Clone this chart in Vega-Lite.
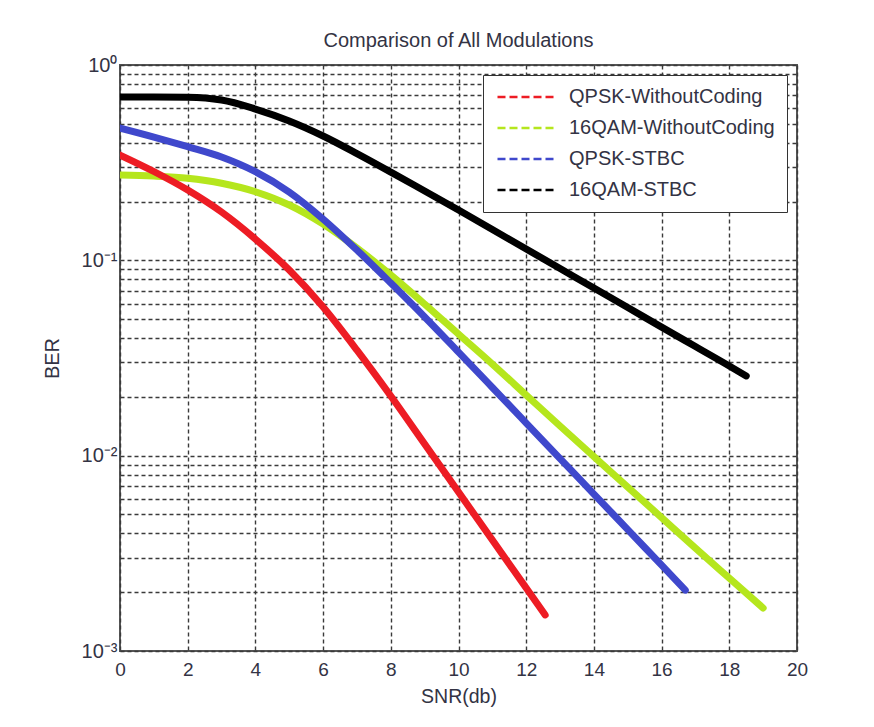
{
  "$schema": "https://vega.github.io/schema/vega-lite/v6.json",
  "autosize": {"type": "none"},
  "padding": {"left": 120, "top": 65, "right": 77, "bottom": 76},
  "width": 677,
  "height": 586,
  "background": "white",
  "title": {
    "text": "Comparison of All Modulations",
    "font": "Liberation Sans",
    "fontSize": 20,
    "fontWeight": "normal",
    "color": "#333344",
    "offset": 4
  },
  "config": {
    "view": {"stroke": "#555555", "strokeWidth": 2},
    "font": "Liberation Sans"
  },
  "data": {
    "values": [
      {"series": "16QAM-WithoutCoding", "snr": 0, "ber": 0.2734},
      {"series": "16QAM-WithoutCoding", "snr": 1, "ber": 0.270},
      {"series": "16QAM-WithoutCoding", "snr": 2, "ber": 0.263},
      {"series": "16QAM-WithoutCoding", "snr": 3, "ber": 0.248},
      {"series": "16QAM-WithoutCoding", "snr": 4, "ber": 0.2245},
      {"series": "16QAM-WithoutCoding", "snr": 5, "ber": 0.192},
      {"series": "16QAM-WithoutCoding", "snr": 6, "ber": 0.1534},
      {"series": "16QAM-WithoutCoding", "snr": 7, "ber": 0.1156},
      {"series": "16QAM-WithoutCoding", "snr": 8, "ber": 0.0841},
      {"series": "16QAM-WithoutCoding", "snr": 9, "ber": 0.0597},
      {"series": "16QAM-WithoutCoding", "snr": 10, "ber": 0.0419},
      {"series": "16QAM-WithoutCoding", "snr": 11, "ber": 0.02944},
      {"series": "16QAM-WithoutCoding", "snr": 12, "ber": 0.02043},
      {"series": "16QAM-WithoutCoding", "snr": 13, "ber": 0.01418},
      {"series": "16QAM-WithoutCoding", "snr": 14, "ber": 0.00989},
      {"series": "16QAM-WithoutCoding", "snr": 15, "ber": 0.00691},
      {"series": "16QAM-WithoutCoding", "snr": 16, "ber": 0.00482},
      {"series": "16QAM-WithoutCoding", "snr": 17, "ber": 0.00336},
      {"series": "16QAM-WithoutCoding", "snr": 18, "ber": 0.00236},
      {"series": "16QAM-WithoutCoding", "snr": 19, "ber": 0.00166},
      {"series": "QPSK-STBC", "snr": 0, "ber": 0.4758},
      {"series": "QPSK-STBC", "snr": 1, "ber": 0.4279},
      {"series": "QPSK-STBC", "snr": 2, "ber": 0.3817},
      {"series": "QPSK-STBC", "snr": 3, "ber": 0.338},
      {"series": "QPSK-STBC", "snr": 4, "ber": 0.2842},
      {"series": "QPSK-STBC", "snr": 5, "ber": 0.2237},
      {"series": "QPSK-STBC", "snr": 6, "ber": 0.1627},
      {"series": "QPSK-STBC", "snr": 7, "ber": 0.1129},
      {"series": "QPSK-STBC", "snr": 8, "ber": 0.0765},
      {"series": "QPSK-STBC", "snr": 9, "ber": 0.0513},
      {"series": "QPSK-STBC", "snr": 10, "ber": 0.0339},
      {"series": "QPSK-STBC", "snr": 11, "ber": 0.02233},
      {"series": "QPSK-STBC", "snr": 12, "ber": 0.01469},
      {"series": "QPSK-STBC", "snr": 13, "ber": 0.00966},
      {"series": "QPSK-STBC", "snr": 14, "ber": 0.00636},
      {"series": "QPSK-STBC", "snr": 15, "ber": 0.00418},
      {"series": "QPSK-STBC", "snr": 16, "ber": 0.00275},
      {"series": "QPSK-STBC", "snr": 16.7, "ber": 0.00205},
      {"series": "QPSK-WithoutCoding", "snr": 0, "ber": 0.346},
      {"series": "QPSK-WithoutCoding", "snr": 1, "ber": 0.285},
      {"series": "QPSK-WithoutCoding", "snr": 2, "ber": 0.229},
      {"series": "QPSK-WithoutCoding", "snr": 3, "ber": 0.1767},
      {"series": "QPSK-WithoutCoding", "snr": 4, "ber": 0.1285},
      {"series": "QPSK-WithoutCoding", "snr": 5, "ber": 0.0892},
      {"series": "QPSK-WithoutCoding", "snr": 6, "ber": 0.0577},
      {"series": "QPSK-WithoutCoding", "snr": 7, "ber": 0.0347},
      {"series": "QPSK-WithoutCoding", "snr": 8, "ber": 0.0202},
      {"series": "QPSK-WithoutCoding", "snr": 9, "ber": 0.01147},
      {"series": "QPSK-WithoutCoding", "snr": 10, "ber": 0.00651},
      {"series": "QPSK-WithoutCoding", "snr": 11, "ber": 0.0037},
      {"series": "QPSK-WithoutCoding", "snr": 12, "ber": 0.0021},
      {"series": "QPSK-WithoutCoding", "snr": 12.56, "ber": 0.00153},
      {"series": "16QAM-STBC", "snr": 0, "ber": 0.686},
      {"series": "16QAM-STBC", "snr": 1, "ber": 0.686},
      {"series": "16QAM-STBC", "snr": 2, "ber": 0.684},
      {"series": "16QAM-STBC", "snr": 3, "ber": 0.662},
      {"series": "16QAM-STBC", "snr": 4, "ber": 0.595},
      {"series": "16QAM-STBC", "snr": 5, "ber": 0.517},
      {"series": "16QAM-STBC", "snr": 6, "ber": 0.433},
      {"series": "16QAM-STBC", "snr": 7, "ber": 0.352},
      {"series": "16QAM-STBC", "snr": 8, "ber": 0.283},
      {"series": "16QAM-STBC", "snr": 9, "ber": 0.2264},
      {"series": "16QAM-STBC", "snr": 10, "ber": 0.181},
      {"series": "16QAM-STBC", "snr": 11, "ber": 0.1438},
      {"series": "16QAM-STBC", "snr": 12, "ber": 0.1143},
      {"series": "16QAM-STBC", "snr": 13, "ber": 0.0908},
      {"series": "16QAM-STBC", "snr": 14, "ber": 0.0721},
      {"series": "16QAM-STBC", "snr": 15, "ber": 0.0573},
      {"series": "16QAM-STBC", "snr": 16, "ber": 0.0455},
      {"series": "16QAM-STBC", "snr": 17, "ber": 0.0362},
      {"series": "16QAM-STBC", "snr": 18, "ber": 0.0288},
      {"series": "16QAM-STBC", "snr": 18.5, "ber": 0.0256}
    ]
  },
  "mark": {"type": "line", "strokeWidth": 7, "strokeCap": "round", "strokeJoin": "round", "interpolate": "monotone", "clip": true},
  "encoding": {
    "x": {
      "field": "snr",
      "type": "quantitative",
      "scale": {"domain": [0, 20], "nice": false, "zero": false},
      "axis": {
        "title": "SNR(db)",
        "values": [0, 2, 4, 6, 8, 10, 12, 14, 16, 18, 20],
        "grid": true,
        "gridColor": "#3a3a3a",
        "gridDash": [4, 3],
        "gridWidth": 1.4,
        "domain": false,
        "ticks": false,
        "labelFont": "Liberation Sans",
        "labelFontSize": 19,
        "labelColor": "#333344",
        "labelPadding": 9,
        "labelFlush": false,
        "titleFont": "Liberation Sans",
        "titleFontSize": 19.5,
        "titleFontWeight": "normal",
        "titleColor": "#333344",
        "titlePadding": 8
      }
    },
    "y": {
      "field": "ber",
      "type": "quantitative",
      "scale": {"type": "log", "domain": [0.001, 1], "nice": false},
      "axis": {
        "title": "BER",
        "values": [0.001, 0.002, 0.003, 0.004, 0.005, 0.006, 0.007, 0.008, 0.009, 0.01, 0.02, 0.03, 0.04, 0.05, 0.06, 0.07, 0.08, 0.09, 0.1, 0.2, 0.3, 0.4, 0.5, 0.6, 0.7, 0.8, 0.9, 1],
        "labelExpr": "datum.value == 1 ? '10⁰' : datum.value == 0.1 ? '10⁻¹' : datum.value == 0.01 ? '10⁻²' : datum.value == 0.001 ? '10⁻³' : ''",
        "labelOverlap": false,
        "labelFlush": false,
        "grid": true,
        "gridColor": "#3a3a3a",
        "gridDash": [4, 3],
        "gridWidth": 1.4,
        "domain": false,
        "ticks": false,
        "labelFont": "Liberation Sans",
        "labelFontSize": 20,
        "labelColor": "#333344",
        "labelPadding": 3,
        "titleFont": "Liberation Sans",
        "titleFontSize": 20,
        "titleFontWeight": "normal",
        "titleColor": "#333344",
        "titlePadding": 19
      }
    },
    "color": {
      "field": "series",
      "type": "nominal",
      "scale": {
        "domain": ["QPSK-WithoutCoding", "16QAM-WithoutCoding", "QPSK-STBC", "16QAM-STBC"],
        "range": ["#ed1c24", "#b5e61d", "#3f48cc", "#000000"]
      },
      "legend": {
        "title": null,
        "orient": "top-right",
        "offset": 10,
        "fillColor": "white",
        "strokeColor": "#333333",
        "padding": 12,
        "symbolType": "M-1,0H7",
        "symbolSize": 225,
        "symbolStrokeWidth": 2.5,
        "symbolDash": [8, 4],
        "labelFont": "Liberation Sans",
        "labelFontSize": 20,
        "labelColor": "#333344",
        "labelOffset": 54,
        "labelLimit": 400,
        "rowPadding": 11,
        "encode": {
          "symbols": {
            "update": {
              "stroke": {"signal": "datum.value === 'QPSK-WithoutCoding' ? '#ff0000' : datum.value === '16QAM-WithoutCoding' ? '#00ff00' : datum.value === 'QPSK-STBC' ? '#0000ff' : '#000000'"}
            }
          }
        }
      }
    }
  }
}
